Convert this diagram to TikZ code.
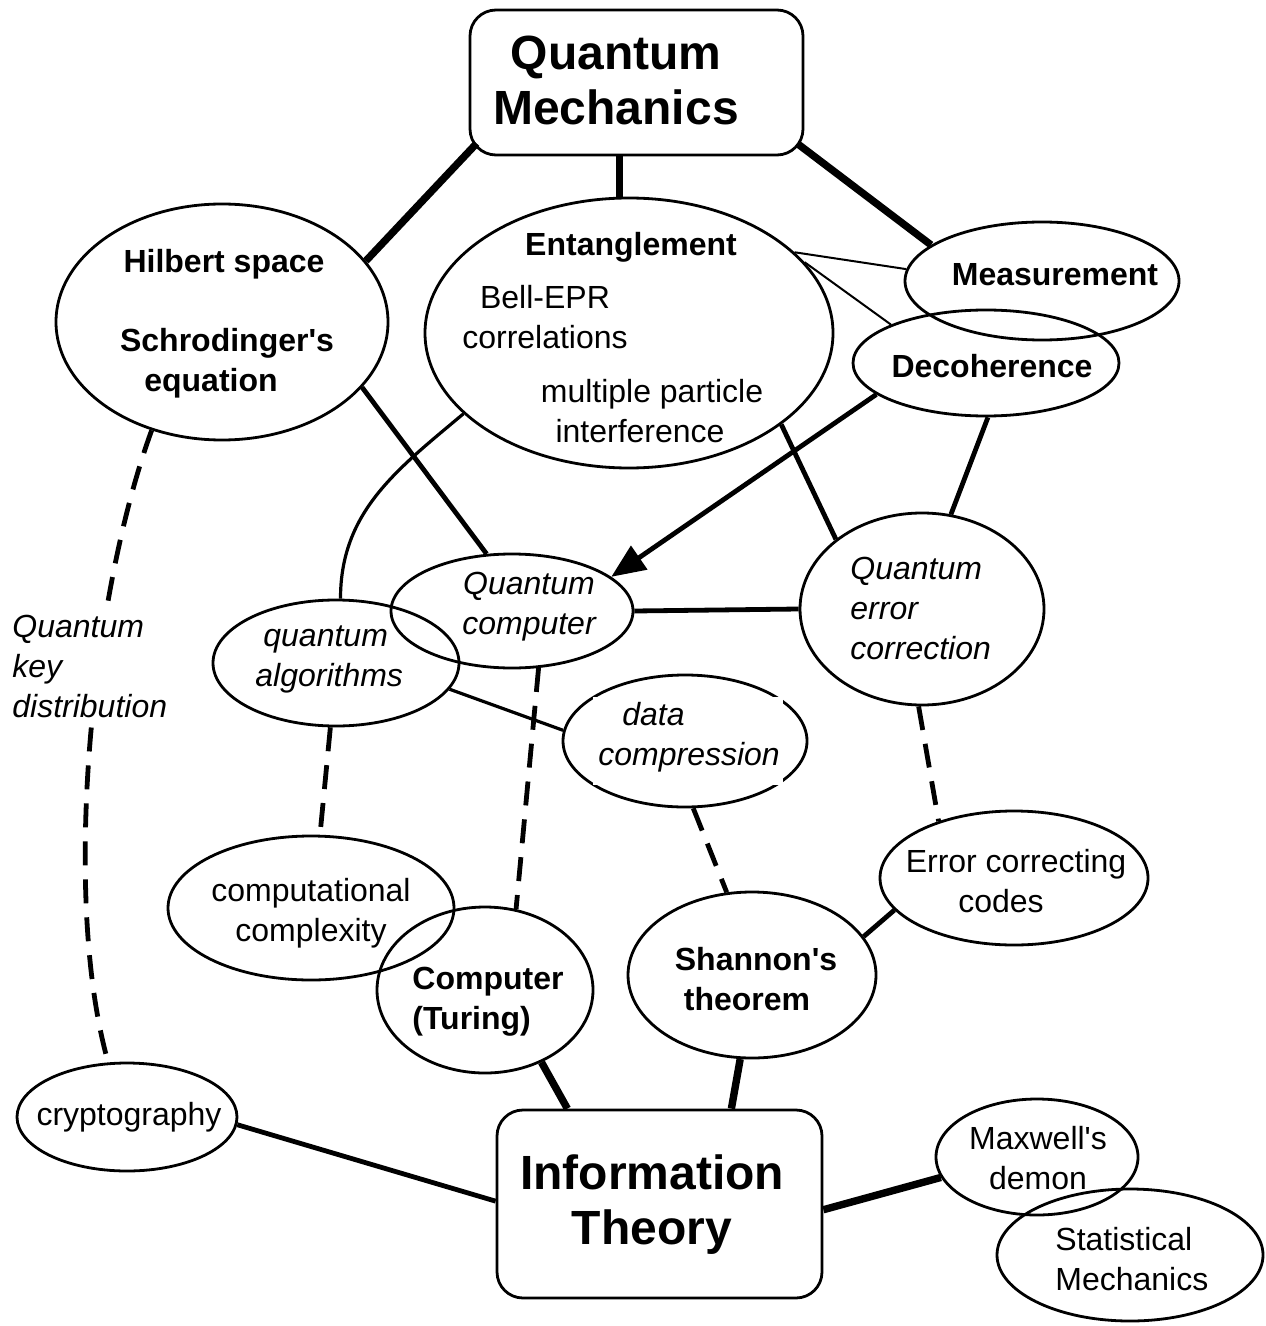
\documentclass[tikz,border=0pt]{standalone}
\usepackage{fontspec}
\setmainfont{Liberation Sans}
\usetikzlibrary{shapes.geometric,arrows.meta,calc}
\begin{document}
\begin{tikzpicture}[x=0.5pt,y=-0.5pt,
  ell/.style 2 args={draw, ellipse, line width=1.4pt, inner sep=0pt, minimum width=#1pt, minimum height=#2pt},
  box/.style 2 args={draw, rounded corners=13pt, line width=1.4pt, inner sep=0pt, minimum width=#1pt, minimum height=#2pt},
  txt/.style={font=\fontsize{16}{20}\selectfont, inner sep=0pt, align=center},
  btxt/.style={font=\fontsize{16}{20}\selectfont\bfseries, inner sep=0pt, align=center},
  itxt/.style={font=\fontsize{16}{20}\selectfont\itshape, inner sep=0pt, align=left},
  big/.style={font=\fontsize{24}{27.5}\selectfont\bfseries, inner sep=0pt, align=center},
  conA/.style={line width=3.7pt},
  conB/.style={line width=2.4pt},
  conM/.style={line width=1.6pt},
  conC/.style={line width=1pt},
  conD/.style={line width=2.4pt, dash pattern=on 12pt off 7pt},
]
\fill[white] (0,0) rectangle (1265,1326);

% main boxes
\node[box={166.5}{72.5}] (qm) at (636.5,82.5) {};
\node[box={162.5}{94}] (it) at (659.5,1204) {};

% ellipses
\node[ell={166}{118}] (hil) at (222,322) {};
\node[ell={204}{135}] (ent) at (629,333) {};
\node[ell={137}{59}] (meas) at (1042,281) {};
\node[ell={133}{53}] (deco) at (986,363) {};
\node[ell={121}{57}] (qc) at (512,611) {};
\node[ell={123}{63}] (qa) at (336,663) {};
\node[ell={122}{96}] (qec) at (922,609) {};
\node[ell={122}{66}] (dc) at (685,741) {};
\node[ell={143}{72}] (cc) at (311,908) {};
\node[ell={108}{83}] (tur) at (485,990) {};
\node[ell={124}{83}] (sh) at (752,975) {};
\node[ell={134}{67}] (ecc) at (1014,878) {};
\node[ell={110}{54}] (cry) at (127,1117) {};
\node[ell={101}{58}] (max) at (1037,1157) {};
\node[ell={133}{66}] (stat) at (1130,1255) {};

% connectors
\draw[conA] ($(qm.south west)+(8,-13)$) -- (hil.23);
\draw[conA] (ent.94) -- (ent.94 |- qm.south);
\draw[conA] ($(qm.south east)+(-6,-12)$) -- (meas.162);
\draw[conC] (ent.26) -- (meas.175);
\draw[conC] (ent.22) -- (deco.158);
\draw[conB] (hil.-25) -- (qc.114);
\draw[conB] (ent.-31) -- (qec.141);
\draw[conB, -{Triangle[length=17pt,width=14pt]}] (deco.196) -- (qc.19);
\draw[conB] (deco.-88) -- (qec.73);
\draw[conB] (qc.east) -- (qec.west);
\draw[conM] (ent.206) to[out=220,in=90] (qa.86);
\draw[conM] (qa.-13) -- (dc.175);
\draw[conD] (hil.237) .. controls (90,600) and (62,900) .. (cry.109);
\draw[conD] (qa.265) -- (cc.83);
\draw[conD] (qc.-65) -- (tur.69);
\draw[conD] (dc.-83) -- (sh.107);
\draw[conD] (qec.268) -- (ecc.143);
\draw[conA] (tur.-52) -- (it.134);
\draw[conA] (sh.262) -- (it.53);
\draw[conB] (sh.19) -- (ecc.195);
\draw[conB] (cry.-4) -- (it.179);
\draw[conA] (it.-2) -- (max.192);

% texts
\node[big] (qmt) at (616,80) {Quantum\\Mechanics};
\node[big] (itt) at (652,1204.5) {Information\\Theory};
\node[btxt] (hilt1) at (224,264) {Hilbert space};
\node[btxt] (hilt2) at (227,363.5) {Schrodinger\textquotesingle s\\equation\hspace*{16pt}};
\node[btxt] (entt) at (631,247) {Entanglement};
\node[txt] (entb) at (545,317.5) {Bell-EPR\\correlations};
\node[txt] (entc) at (652,411) {multiple particle\\interference\hspace*{12pt}};
\node[btxt] (meast) at (1055,275) {Measurement};
\node[btxt] (decot) at (992,366) {Decoherence};
\node[itxt, align=center] (qct) at (529,606.5) {Quantum\\computer};
\node[itxt, anchor=west] (qat) at (255,659.5) {\hspace*{4pt}quantum\\algorithms};
\node[itxt, anchor=west] (qect) at (850,608) {Quantum\\error\\correction};
\node[fill=white, inner sep=0pt, minimum width=95pt, minimum height=44pt] (dcbox) at (688,741) {};
\begin{scope}
\clip (dcbox.south west) rectangle (dcbox.north east);
\node[itxt, anchor=west] (dct) at (598,737) {\hspace*{12pt}data\\compression};
\end{scope}
\node[txt] (cct) at (311,913) {computational\\complexity};
\node[btxt, align=left, anchor=west] (turt) at (412,1002) {Computer\\(Turing)};
\node[btxt] (sht) at (756,979.5) {Shannon\textquotesingle s\\theorem\hspace*{9pt}};
\node[txt] (ecct) at (1016,881.5) {Error correcting\\codes\hspace*{15pt}};
\node[txt] (cryt) at (129,1117) {cryptography};
\node[txt] (maxt) at (1038,1158) {Maxwell\textquotesingle s\\demon};
\node[txt, align=left, anchor=west] (statt) at (1055,1259.5) {Statistical\\Mechanics};
\node[itxt, anchor=west, fill=white, inner ysep=5pt] (qkd) at (12,666) {Quantum\\key\\distribution};
\end{tikzpicture}
\end{document}
